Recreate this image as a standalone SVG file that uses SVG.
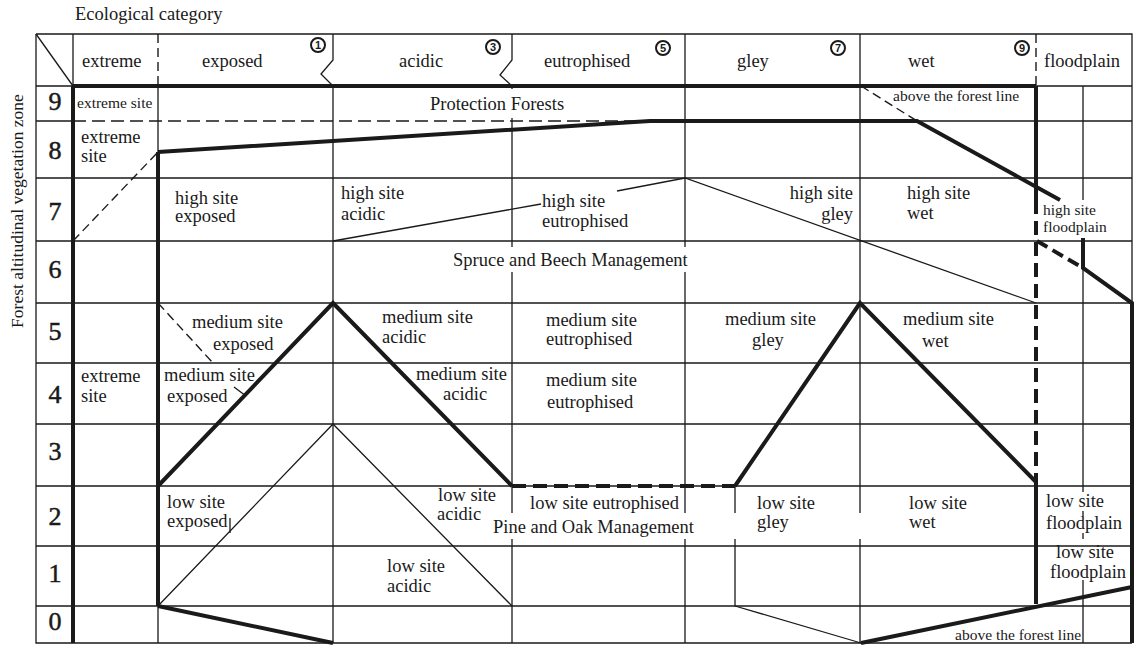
<svg xmlns="http://www.w3.org/2000/svg" width="1140" height="645" viewBox="0 0 1140 645">
<style>
text{font-family:"Liberation Serif","Times New Roman",serif;fill:#1a1a1a;font-size:18.5px}
.sm{font-size:15.5px}
.num{font-size:26px;text-anchor:middle;stroke:#1a1a1a;stroke-width:0.5}
.end{text-anchor:end}
.thin{stroke:#1a1a1a;stroke-width:1.3;fill:none}
.thick{stroke:#1a1a1a;stroke-width:4;fill:none}
.dash{stroke:#1a1a1a;stroke-width:1.5;fill:none;stroke-dasharray:13 6}
.sdash{stroke:#1a1a1a;stroke-width:1.4;fill:none;stroke-dasharray:9 5}
.tdash{stroke:#1a1a1a;stroke-width:4;fill:none;stroke-dasharray:14 7}
.bg{fill:#fff}
.circ{fill:none;stroke:#1a1a1a;stroke-width:2}
.cn{font-size:11px;font-weight:bold;text-anchor:middle;font-family:"Liberation Sans",Arial,sans-serif}
</style>
<rect width="1140" height="645" fill="#fff"/>

<g id="titles">
<text x="75" y="20">Ecological category</text>
<text transform="translate(23,211) rotate(-90)" style="font-size:17.5px" text-anchor="middle">Forest altitudinal vegetation zone</text>
</g>

<g id="connectors">
<path class="thin" d="M36,34 H1132 V303 M36,34 V643 H1132"/>
<path class="thin" d="M36,34 L73,86"/>
<path class="thin" d="M36,86 H73 M1036,86 H1132 M36,121 H73 M917,121 H1132 M36,178 H1132 M36,241 H1132 M36,303 H1132 M36,363 H1132 M36,424 H1132 M36,486 H1132 M36,546 H1132 M36,606 H1132"/>
<path class="thin" d="M73,34 V86 M158,86 V152 M158,606 V643 M333,86 V643 M512,86 V643 M685,34 V643 M735,486 V606 M860,34 V643"/>
<path class="thin" d="M333,34 V60 L321,74 L333,86 M512,34 V60 L500,75 L512,86"/>
<path class="sdash" d="M158,34 V86 M1036,34 V86"/>
<path class="thin" d="M1083,86 V200 M1083,268 V492 M1083,511 V516 M1083,533 V539 M1083,580 V643"/>
<path class="thick" d="M73,86 H1036 M73,86 V643 M158,152 V606"/>
<path class="thick" d="M158,152 L650,121 L917,121 L1060,200"/>
<path class="thick" d="M1036,86 V200 M1036,480 V604"/>
<path class="tdash" d="M1036,200 V480"/>
<path class="thick" d="M1083,238 V268 L1132,303 V643"/>
<path class="tdash" d="M1037,241 L1083,268" style="stroke-dasharray:12 6"/>
<path class="thick" d="M158,486 L333,303 L512,486"/>
<path class="tdash" d="M512,486 H735"/>
<path class="thick" d="M735,486 L860,303 L1036,482"/>
<path class="thick" d="M158,606 L333,643 M861,643 L1132,587"/>
<path class="thin" d="M158,606 L333,424 L512,606 M735,606 L861,643"/>
<path class="thin" d="M333,241 L541,204 M617,191 L685,178 L1036,303"/>
<path class="dash" d="M73,121 H650"/>
<path class="sdash" d="M73,241 L158,152 M158,303 L213,363 M861,86 L917,121"/>
<path class="thin" d="M234,387 L246,396 M230,518 V533"/>
</g>

<g id="label-backgrounds">
<rect class="bg" x="426" y="89" width="170" height="29"/>
<rect class="bg" x="449" y="247" width="248" height="25"/>
<rect class="bg" x="488" y="513" width="378" height="26"/>
</g>

<g id="header">
<text x="82" y="67">extreme</text>
<text x="202" y="67">exposed</text>
<text x="399" y="67">acidic</text>
<text x="544" y="67">eutrophised</text>
<text x="737" y="67">gley</text>
<text x="908" y="67">wet</text>
<text x="1044" y="67">floodplain</text>
<circle class="circ" cx="318" cy="45" r="7"/><text class="cn" x="318" y="49">1</text>
<circle class="circ" cx="493" cy="47" r="7"/><text class="cn" x="493" y="51">3</text>
<circle class="circ" cx="663" cy="48" r="7"/><text class="cn" x="663" y="52">5</text>
<circle class="circ" cx="838" cy="48" r="7"/><text class="cn" x="838" y="52">7</text>
<circle class="circ" cx="1022" cy="48" r="7"/><text class="cn" x="1022" y="52">9</text>
</g>

<g id="zones">
<text class="num" x="55" y="110">9</text>
<text class="num" x="55" y="159">8</text>
<text class="num" x="55" y="220">7</text>
<text class="num" x="55" y="278">6</text>
<text class="num" x="55" y="340">5</text>
<text class="num" x="55" y="403">4</text>
<text class="num" x="55" y="460">3</text>
<text class="num" x="55" y="525">2</text>
<text class="num" x="55" y="582">1</text>
<text class="num" x="55" y="630">0</text>
</g>

<g id="row9">
<text class="sm" x="77" y="108">extreme site</text>
<text x="430" y="110">Protection Forests</text>
<text class="sm" x="893" y="101">above the forest line</text>
</g>
<g id="row8">
<text x="81" y="143">extreme</text>
<text x="81" y="162">site</text>
</g>
<g id="row7">
<text x="175" y="204">high site</text><text x="175" y="222">exposed</text>
<text x="341" y="199">high site</text><text x="341" y="220">acidic</text>
<text x="542" y="207">high site</text><text x="542" y="227">eutrophised</text>
<text class="end" x="853" y="199">high site</text><text class="end" x="853" y="220">gley</text>
<text x="907" y="199">high site</text><text x="907" y="219">wet</text>
<text class="sm" x="1043" y="215">high site</text><text class="sm" x="1043" y="232">floodplain</text>
</g>
<g id="row6">
<text x="453" y="266">Spruce and Beech Management</text>
</g>
<g id="row5">
<text x="192" y="328">medium site</text><text x="213" y="350">exposed</text>
<text x="382" y="323">medium site</text><text x="382" y="343">acidic</text>
<text x="546" y="326">medium site</text><text x="546" y="345">eutrophised</text>
<text x="725" y="325">medium site</text><text x="752" y="346">gley</text>
<text x="903" y="325">medium site</text><text x="922" y="347">wet</text>
</g>
<g id="row4">
<text x="81" y="382">extreme</text><text x="81" y="402">site</text>
<text x="164" y="381">medium site</text><text x="167" y="402">exposed</text>
<text x="416" y="380">medium site</text><text x="443" y="400">acidic</text>
<text x="546" y="386">medium site</text><text x="547" y="408">eutrophised</text>
</g>
<g id="row2">
<text x="167" y="508">low site</text><text x="167" y="527">exposed</text>
<text x="438" y="501">low site</text><text x="437" y="520">acidic</text>
<text x="530" y="509">low site eutrophised</text>
<text x="493" y="533">Pine and Oak Management</text>
<text x="757" y="509">low site</text><text x="757" y="528">gley</text>
<text x="909" y="509">low site</text><text x="909" y="528">wet</text>
<text x="1046" y="507">low site</text><text x="1046" y="529">floodplain</text>
</g>
<g id="row1">
<text x="387" y="572">low site</text><text x="387" y="592">acidic</text>
<text x="1056" y="558">low site</text><text x="1050" y="578">floodplain</text>
</g>
<g id="row0">
<text class="sm" x="955" y="640">above the forest line</text>
</g>
</svg>
